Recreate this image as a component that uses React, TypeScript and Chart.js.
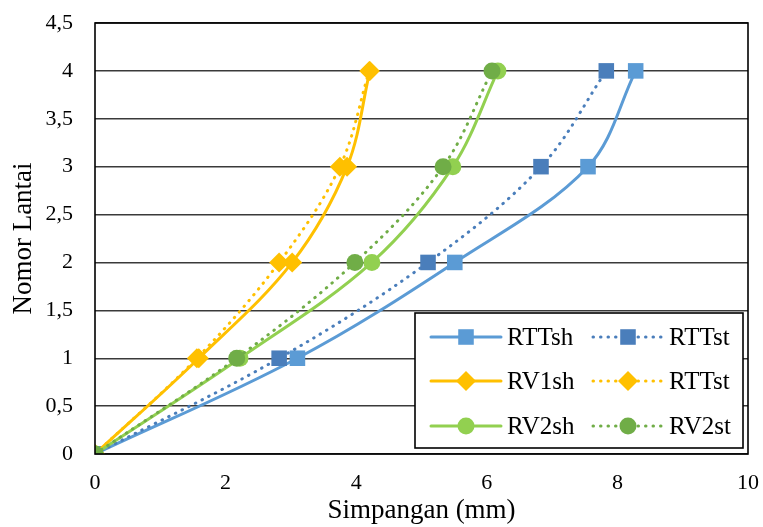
import React, { useEffect, useRef } from "react";
import { Chart, registerables } from "chart.js";

Chart.register(...registerables);

const floors = [0, 1, 2, 3, 4];
const rttSh = [0, 3.1, 5.51, 7.55, 8.28];
const rttSt = [0, 2.82, 5.1, 6.83, 7.83];
const rv1Sh = [0, 1.59, 3.02, 3.86, 4.21];
const rv1St = [0, 1.56, 2.82, 3.75, 4.2];
const rv2Sh = [0, 2.22, 4.24, 5.48, 6.17];
const rv2St = [0, 2.17, 3.98, 5.33, 6.08];

const seriesLabels = ["RTTsh", "RTTst", "RV1sh", "RTTst", "RV2sh", "RV2st"];
const seriesValues = [rttSh, rttSt, rv1Sh, rv1St, rv2Sh, rv2St];
const seriesColors = ["#5B9BD5", "#4A7EBB", "#FFC000", "#FFC000", "#92D050", "#70AD47"];
const seriesDotted = [false, true, false, true, false, true];
const seriesShapes = ["rect", "rect", "rectRot", "rectRot", "circle", "circle"];
const shapeRadius: Record<string, number> = { rect: 11, rectRot: 10, circle: 8.5 };

const xTicks = [0, 2, 4, 6, 8, 10];
const FONT = "'Liberation Serif', 'Times New Roman', serif";

const zeroPad = (scale: any) => {
  scale.paddingTop = 0;
  scale.paddingBottom = 0;
  scale.paddingLeft = 0;
  scale.paddingRight = 0;
};

const frameAndLegend = {
  id: "frameAndLegend",
  afterDraw(chart: any) {
    const { ctx, chartArea } = chart;
    ctx.save();
    ctx.strokeStyle = "#000";
    ctx.lineWidth = 1.6;
    ctx.strokeRect(chartArea.left, chartArea.top, chartArea.right - chartArea.left, chartArea.bottom - chartArea.top);

    // legend box
    const bx = 415, by = 313, bw = 328, bh = 135;
    ctx.fillStyle = "#fff";
    ctx.fillRect(bx, by, bw, bh);
    ctx.lineWidth = 1.6;
    ctx.strokeStyle = "#000";
    ctx.strokeRect(bx, by, bw, bh);

    const rowsY = [337, 381, 426];
    const colX = [431, 593];
    ctx.font = `25px ${FONT}`;
    ctx.textBaseline = "middle";
    chart.data.datasets.forEach((ds: any, i: number) => {
      const row = Math.floor(i / 2);
      const col = i % 2;
      const y = rowsY[row];
      const x0 = colX[col];
      const x1 = x0 + 70;
      ctx.save();
      ctx.strokeStyle = ds.borderColor;
      ctx.lineWidth = 3;
      ctx.lineCap = "round";
      ctx.setLineDash(ds.borderDash || []);
      ctx.beginPath();
      ctx.moveTo(x0, y);
      ctx.lineTo(x1, y);
      ctx.stroke();
      ctx.restore();
      ctx.save();
      ctx.fillStyle = ds.pointBackgroundColor;
      const r = ds.pointRadius;
      const cx = (x0 + x1) / 2;
      ctx.beginPath();
      if (ds.pointStyle === "rect") {
        const s = Math.SQRT1_2 * r;
        ctx.rect(cx - s, y - s, 2 * s, 2 * s);
      } else if (ds.pointStyle === "rectRot") {
        ctx.moveTo(cx, y - r);
        ctx.lineTo(cx + r, y);
        ctx.lineTo(cx, y + r);
        ctx.lineTo(cx - r, y);
        ctx.closePath();
      } else {
        ctx.arc(cx, y, r, 0, Math.PI * 2);
      }
      ctx.fill();
      ctx.restore();
      ctx.fillStyle = "#000";
      ctx.textAlign = "left";
      ctx.fillText(ds.label, x1 + 6, y + 1);
    });
    ctx.restore();
  },
};

export default function App() {
  const ref = useRef<HTMLCanvasElement | null>(null);
  useEffect(() => {
    if (!ref.current) return;
    const datasets = seriesValues.map((vals, i) => ({
      label: seriesLabels[i],
      data: vals.map((v, k) => ({ x: v, y: floors[k] })),
      showLine: true,
      borderColor: seriesColors[i],
      backgroundColor: seriesColors[i],
      pointBackgroundColor: seriesColors[i],
      pointBorderColor: seriesColors[i],
      pointBorderWidth: 0,
      borderWidth: 3,
      borderDash: seriesDotted[i] ? [0.5, 7] : [],
      borderCapStyle: seriesDotted[i] ? "round" : "butt",
      pointStyle: seriesShapes[i],
      pointRadius: shapeRadius[seriesShapes[i]],
      tension: 0.35,
      order: 5 - i,
    }));
    const chart = new Chart(ref.current, {
      type: "scatter",
      data: { datasets } as any,
      options: {
        animation: false,
        responsive: false,
        layout: { padding: { top: 23, right: 15, left: 0, bottom: 0 } },
        plugins: { legend: { display: false }, tooltip: { enabled: false } },
        scales: {
          x: {
            type: "linear",
            min: 0,
            max: 10,
            afterBuildTicks: (scale: any) => {
              scale.ticks = xTicks.map((v) => ({ value: v }));
            },
            afterFit: (scale: any) => {
              scale.height = 73;
              zeroPad(scale);
            },
            grid: { display: false, drawTicks: false },
            border: { display: false },
            ticks: { color: "#000", font: { family: FONT, size: 22 }, padding: 16, maxRotation: 0 },
            title: {
              display: true,
              text: "Simpangan (mm)",
              color: "#000",
              font: { family: FONT, size: 27 },
              padding: { top: 0, bottom: 0 },
            },
          },
          y: {
            type: "linear",
            min: 0,
            max: 4.5,
            ticks: {
              stepSize: 0.5,
              color: "#000",
              font: { family: FONT, size: 22 },
              padding: 22,
              callback: (v: any) => String(v).replace(".", ","),
            },
            afterFit: (scale: any) => {
              scale.width = 95;
              zeroPad(scale);
            },
            grid: { color: "#3a3a3a", lineWidth: 1.4, drawTicks: false },
            border: { display: false },
            title: {
              display: true,
              text: "Nomor Lantai",
              color: "#000",
              font: { family: FONT, size: 27 },
              padding: { top: 8, bottom: 0 },
            },
          },
        },
      },
      plugins: [frameAndLegend],
    } as any);
    return () => chart.destroy();
  }, []);
  return (
    <div style={{ position: "absolute", left: 0, top: 0, width: 763, height: 527, background: "#fff" }}>
      <canvas ref={ref} width={763} height={527} style={{ display: "block" }} />
    </div>
  );
}
